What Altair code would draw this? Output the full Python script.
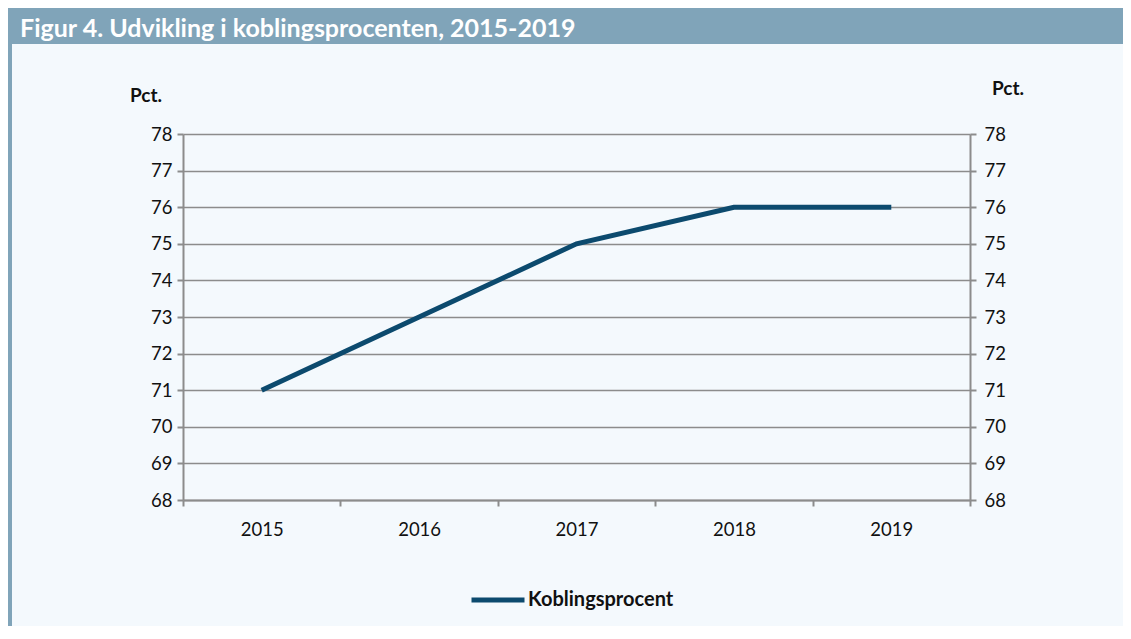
import altair as alt
import pandas as pd

years = ["2015", "2016", "2017", "2018", "2019"]
values = [71, 73, 75, 76, 76]
series = ["Koblingsprocent"] * len(years)
y_ticks = list(range(68, 79))

title_text = "Figur 4. Udvikling i koblingsprocenten, 2015-2019"
unit_label = "Pct."

df = pd.DataFrame({"År": years, "Pct": values, "Serie": series})
one = pd.DataFrame({"a": [0]})

BAR = "#80a4b9"
BG = "#f4f9fd"
LINE = "#0c4a6e"
GRID = "#8c8c8c"
FONT = "Lato"
LAB = 18.5

W, H = 787, 366
PL, PT = 175, 126
TOTW, TOTH = 1115, 618
PR, PB = TOTW - PL - W, TOTH - PT - H

xscale = alt.Scale(type="band", domain=years, paddingInner=0, paddingOuter=0)
yscale = alt.Scale(domain=[68, 78], nice=False, zero=False)

line = alt.Chart(df).mark_line(strokeWidth=5, strokeCap="butt").encode(
    x=alt.X("År:N", scale=xscale, title=None,
            axis=alt.Axis(tickBand="extent", domainColor=GRID, domainWidth=2,
                          tickColor=GRID, tickWidth=2, tickSize=6, labelAngle=0,
                          labelFont=FONT, labelFontSize=LAB, labelColor="#111",
                          labelPadding=14, grid=False)),
    y=alt.Y("Pct:Q", scale=yscale, title=None,
            axis=alt.Axis(orient="left", values=y_ticks, domainColor=GRID, domainWidth=2,
                          tickColor=GRID, tickWidth=2, tickSize=6,
                          labelFont=FONT, labelFontSize=LAB, labelColor="#111",
                          labelPadding=5, grid=True, gridColor=GRID, gridWidth=1.5)),
    color=alt.Color("Serie:N", scale=alt.Scale(range=[LINE]), title=None,
                    legend=alt.Legend(orient="none", legendX=286, legendY=437,
                                      symbolType="stroke", symbolSize=2809,
                                      symbolStrokeWidth=5, labelFont=FONT,
                                      labelFontSize=20, labelFontWeight="bold",
                                      labelColor="#111", labelOffset=1)),
)

right = alt.Chart(df).mark_point(opacity=0).encode(
    x=alt.X("År:N", scale=xscale, title=None),
    y=alt.Y("Pct:Q", scale=yscale, title=None,
            axis=alt.Axis(orient="right", values=y_ticks, domainColor=GRID, domainWidth=2,
                          tickColor=GRID, tickWidth=2, tickSize=6,
                          labelFont=FONT, labelFontSize=LAB, labelColor="#111",
                          labelPadding=8, grid=False)),
)

bar = alt.Chart(one).mark_rect(color=BAR).encode(
    x=alt.value(-PL), x2=alt.value(TOTW - PL), y=alt.value(-PT), y2=alt.value(-PT + 36))
border = alt.Chart(one).mark_rect(color=BAR).encode(
    x=alt.value(-PL), x2=alt.value(-PL + 4), y=alt.value(-PT + 36), y2=alt.value(TOTH - PT))
title = alt.Chart(one).mark_text(text=title_text, color="white", font=FONT, fontSize=25,
                                 fontWeight="bold", align="left", baseline="alphabetic").encode(
    x=alt.value(-163), y=alt.value(-97))
pct_l = alt.Chart(one).mark_text(text=unit_label, color="#111", font=FONT, fontSize=19,
                                 fontWeight="bold", align="center", baseline="middle").encode(
    x=alt.value(-37), y=alt.value(-38))
pct_r = alt.Chart(one).mark_text(text=unit_label, color="#111", font=FONT, fontSize=19,
                                 fontWeight="bold", align="center", baseline="middle").encode(
    x=alt.value(825), y=alt.value(-45))

chart = alt.layer(bar, border, title, pct_l, pct_r, line, right).resolve_scale(
    y="independent").resolve_axis(y="independent").properties(
    width=W, height=H,
    autosize=alt.AutoSizeParams(type="none"),
    padding={"left": PL, "top": PT, "right": PR, "bottom": PB},
    background=BG,
).configure_view(stroke=None)

chart.save("out.html", embed_options={"renderer": "svg", "actions": False})
